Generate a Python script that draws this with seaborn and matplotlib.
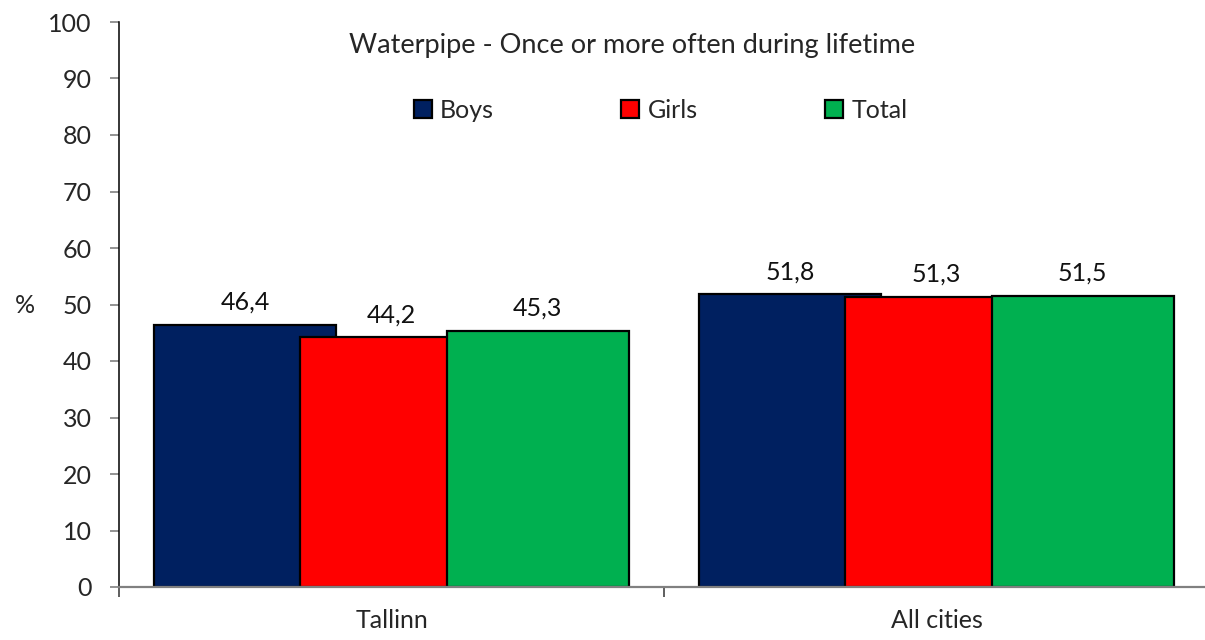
import pandas as pd
import matplotlib
matplotlib.use('Agg')
import matplotlib.pyplot as plt
import seaborn as sns

regions = ['Tallinn', 'All cities']
groups = ['Boys', 'Girls', 'Total']
boys = [46.4, 51.8]
girls = [44.2, 51.3]
total = [45.3, 51.5]
colors = ['#002060', '#FF0000', '#00B050']
chart_title = 'Waterpipe - Once or more often during lifetime'

df = pd.DataFrame({
    'region': regions * 3,
    'group': [g for g in groups for _ in regions],
    'value': boys + girls + total,
})

sns.set_style('white')
plt.rcParams['font.family'] = ['Lato', 'DejaVu Sans']
plt.rcParams['font.size'] = 18

fig = plt.figure(figsize=(12.05, 6.4), dpi=100)
ax = fig.add_axes([119 / 1205, 53 / 640, 1090 / 1205, 565 / 640])

sns.barplot(data=df, x='region', y='value', hue='group', order=regions,
            hue_order=groups, palette=colors, edgecolor='black',
            linewidth=1.6, saturation=1, ax=ax)

# Excel-style overlapping bars
bar_w = 0.334
step = 0.268
for i, cont in enumerate(ax.containers):
    for j, p in enumerate(cont.patches):
        p.set_width(bar_w)
        p.set_x(j - (2 * step + bar_w) / 2 + i * step)
    ax.bar_label(cont, labels=[f'{v:.1f}'.replace('.', ',') for v in cont.datavalues],
                 padding=8, fontsize=18, color='#111111')

ax.set_xlim(-0.5, 1.5)
ax.set_ylim(0, 100)
ax.set_yticks(range(0, 101, 10))
ax.set_xlabel('')
ax.set_ylabel('%', rotation=0, ha='center', va='center', fontsize=18)
ax.yaxis.set_label_coords(-0.0862, 0.499)

for s in ['top', 'right']:
    ax.spines[s].set_visible(False)
ax.spines['left'].set_color('black')
ax.spines['left'].set_linewidth(1.1)
ax.spines['bottom'].set_color('#808080')
ax.spines['bottom'].set_linewidth(1.6)

ax.tick_params(axis='y', direction='out', length=6.5, width=1.2, color='#808080',
               pad=13, labelsize=18, left=True)
ax.tick_params(axis='x', which='major', length=0, pad=16, labelsize=18)
ax.set_xticks([-0.5, 0.5, 1.5], minor=True)
ax.tick_params(axis='x', which='minor', direction='out', length=7, width=1.1,
               color='#333333', bottom=True)

ax.text(0.4706, 0.958, chart_title, transform=ax.transAxes, ha='center',
        va='center', fontsize=19.5)

sns.move_legend(ax, 'center', bbox_to_anchor=(0.497, 0.844), ncol=3,
                frameon=False, title=None, fontsize=18, handlelength=0.72,
                handleheight=0.72, handletextpad=0.33, columnspacing=5.1)

fig.savefig('out.png', dpi=100)
